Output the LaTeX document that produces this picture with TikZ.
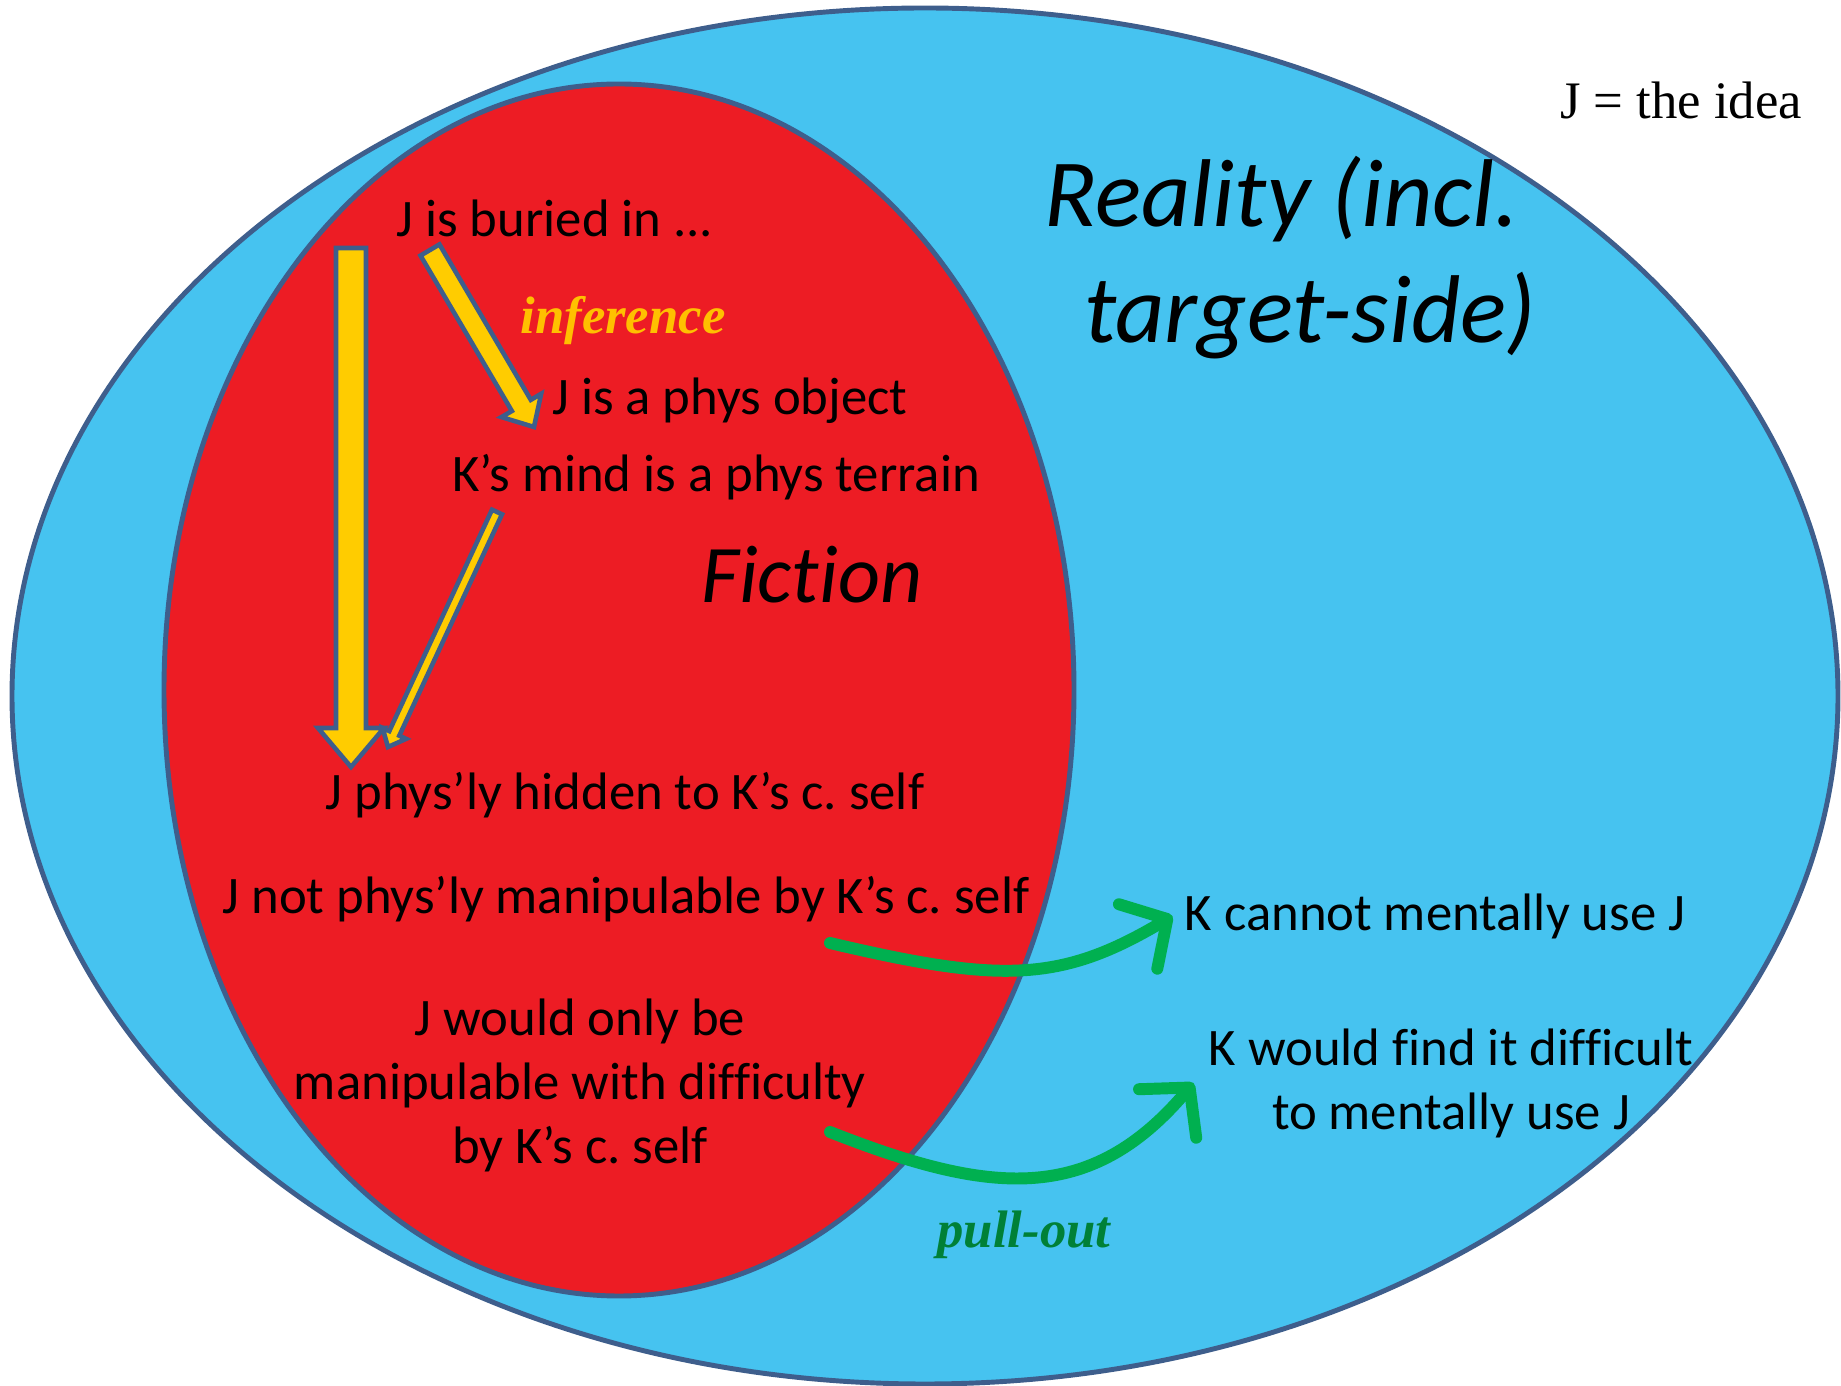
\documentclass[tikz,border=0pt]{standalone}
\usepackage{fontspec}
\setmainfont{Carlito}[Ligatures={TeX,NoCommon}]
\newfontfamily\timesfont{Liberation Serif}
\usetikzlibrary{calc,arrows.meta}
\definecolor{realityblue}{RGB}{70,195,240}
\definecolor{fictionred}{RGB}{237,28,36}
\definecolor{rimblue}{RGB}{62,94,140}
\definecolor{arrowyellow}{RGB}{255,204,0}
\definecolor{inferencegold}{RGB}{255,192,0}
\definecolor{pullgreen}{RGB}{0,176,80}
\definecolor{pulltext}{RGB}{0,128,55}
\frenchspacing
\def\fatarrow[#1](#2)(#3)(#4:#5:#6){%
	\coordinate (fa-base) at ($(#3)!#6!(#2)$);
	\draw[#1] ($(#2)!#4!90:(#3)$) -- ($(fa-base)!#4!-90:(#2)$) -- ($(fa-base)!#5!-90:(#2)$) -- (#3) -- ($(fa-base)!#5!90:(#2)$) -- ($(fa-base)!#4!90:(#2)$) -- ($(#2)!#4!-90:(#3)$) -- cycle;}

\begin{document}
\begin{tikzpicture}[
	txt/.style={font=\fontsize{15}{18.2}\selectfont, align=center},
	fat/.style={draw=rimblue, fill=arrowyellow, line width=1.3pt, line join=miter},
	pull/.style={draw=pullgreen, line width=3.4pt, line cap=round, -{Straight Barb[length=3.4mm, width=7.5mm, round]}}]
		%%%%% START %%%%%
		\useasboundingbox (0,0) rectangle (18.41,13.85);
		
		\draw[rimblue, line width=1.4pt, fill=realityblue] (9.25,6.89) ellipse (9.13 and 6.88);
		\draw[rimblue, line width=1.4pt, fill=fictionred] (6.19,6.95) ellipse (4.55 and 6.06);
		
		\coordinate (longtop) at (3.51,11.37);
		\coordinate (longtip) at (3.51,6.18);
		\coordinate (inftop) at (4.30,11.35);
		\coordinate (inftip) at (5.34,9.58);
		\coordinate (mindtop) at (4.97,8.73);
		\coordinate (mindtip) at (3.88,6.38);
		\fatarrow[fat](longtop)(longtip)(0.15cm:0.33cm:0.39cm);
		\fatarrow[fat](inftop)(inftip)(0.11cm:0.23cm:0.25cm);
		\fatarrow[fat](mindtop)(mindtip)(0.055cm:0.13cm:0.15cm);
		
		\node[font=\timesfont\fontsize{15}{18}\selectfont] (idea) at (16.81,12.85) {J = the idea};
		\node[font=\itshape\fontsize{27.4}{33}\selectfont, align=center] (reality) at (12.95,11.27) {Reality (incl.\hspace*{0.26cm}\\\hspace*{0.30cm}target-side)};
		\node[font=\itshape\fontsize{23.3}{28}\selectfont] (fiction) at (8.12,8.10) {Fiction};
		
		\node[txt] (buried) at (5.55,11.67) {J is buried in ...};
		\node[font=\timesfont\bfseries\itshape\fontsize{15}{18}\selectfont, text=inferencegold] (inference) at (6.23,10.64) {inference};
		\node[txt] (object) at (7.30,9.84) {J is a phys object};
		\node[txt] (terrain) at (7.16,9.08) {K’s mind is a phys terrain};
		\node[txt] (hidden) at (6.25,5.90) {J phys’ly hidden to K’s c. self};
		\node[txt] (notmanip) at (6.26,4.86) {J not phys’ly manipulable by K’s c. self};
		\node[txt] (difficulty) at (5.80,3.00) {J would only be\\manipulable with difficulty\\by K’s c. self};
		\node[txt] (cannot) at (14.35,4.69) {K cannot mentally use J};
		\node[txt] (finddiff) at (14.51,3.02) {K would find it difficult\\to mentally use J};
		\node[font=\timesfont\bfseries\itshape\fontsize{15}{18}\selectfont, text=pulltext] (pullout) at (10.24,1.50) {pull-out};
		
		\coordinate (pullA) at (8.30,4.42);
		\coordinate (pullB) at (8.30,2.53);
		\draw[pull] (pullA) .. controls (10.0,4.02) and (10.6,4.02) .. (cannot.west);
		\draw[pull] (pullB) .. controls (9.9,1.9) and (10.9,1.8) .. ([xshift=-0.03cm]finddiff.west);
		
		%%%%% END %%%%%
\end{tikzpicture}
\end{document}
